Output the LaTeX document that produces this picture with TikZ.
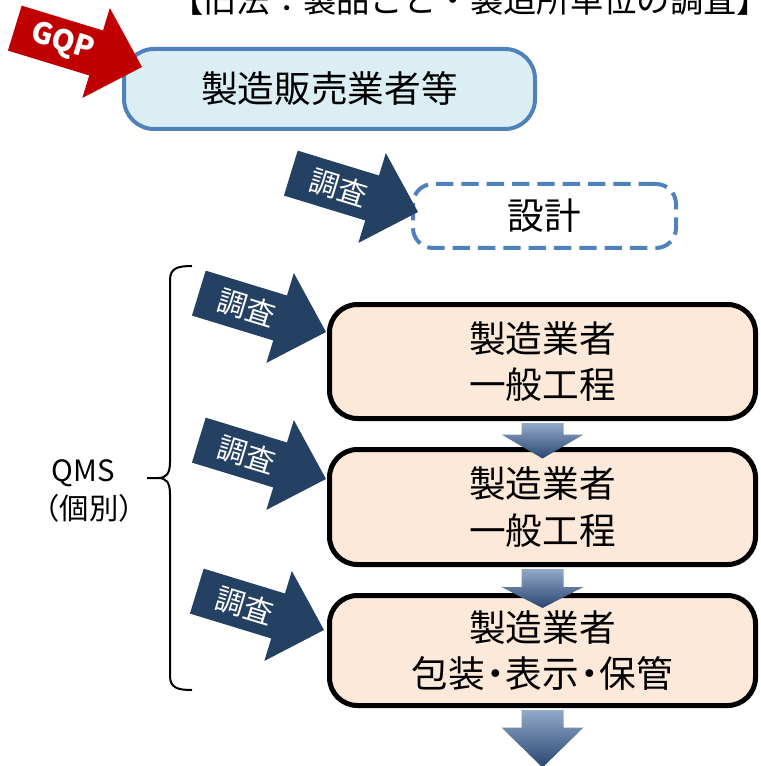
\documentclass[tikz,border=0pt]{standalone}
\usepackage{fontspec}
\setmainfont{Noto Sans CJK JP}
\definecolor{navy}{HTML}{244062}
\definecolor{gqpred}{HTML}{C00000}
\definecolor{bluebd}{HTML}{4F81BD}
\definecolor{bluefill}{HTML}{DBEEF4}
\definecolor{peach}{HTML}{FDE9D9}
\definecolor{grtop}{HTML}{93A9C8}
\definecolor{grbot}{HTML}{284670}
\newcommand\nardot{\kern-0.22em・\kern-0.22em}
\newcommand\bigarrow[5]{% name, tip x, tip y, colour, text
  \begin{scope}[shift={(#2,#3)},rotate=-17]
    \fill[#4] (-133,-23.5) -- (-48,-23.5) -- (-48,-47) -- (0,0) -- (-48,47) -- (-48,23.5) -- (-133,23.5) -- cycle;
    \node[transform shape, arrowtext] (#1) at (-83,0) {#5};
  \end{scope}}
\newcommand\gradarrow[4]{% anchor, body top, head base, tip (offsets in px)
  \begin{scope}[shift={(#1)}]
    \shade[top color=grtop, bottom color=grbot] (-21,#2) -- (21,#2) -- (21,#3) -- (41,#3) -- (0,#4) -- (-41,#3) -- (-21,#3) -- cycle;
  \end{scope}}
\begin{document}
\begin{tikzpicture}[x=0.75pt,y=-0.75pt,
  arrowtext/.style={text=white, inner sep=0pt, font=\fontsize{22pt}{24pt}\selectfont},
  mfbox/.style={draw=bluebd, line width=3pt, fill=bluefill, rounded corners=22.5pt,
    minimum width=308.25pt, minimum height=60pt, inner sep=0pt, font=\fontsize{27.5pt}{34pt}\selectfont},
  designbox/.style={draw=bluebd, line width=3pt, fill=white, rounded corners=15pt, dash pattern=on 13pt off 6pt,
    minimum width=197.25pt, minimum height=48pt, inner sep=0pt, font=\fontsize{27.5pt}{34pt}\selectfont},
  mbox/.style={draw=black, line width=3.75pt, fill=peach, rounded corners=21pt,
    minimum width=319.5pt, inner sep=0pt, align=center, font=\fontsize{27.5pt}{35pt}\selectfont},
  lbl/.style={inner sep=0pt, font=\fontsize{22pt}{26pt}\selectfont}]
\useasboundingbox (0,0) rectangle (760,766);
% title (cut off at the top)
\node[anchor=base, inner sep=0pt, font=\fontsize{25pt}{28pt}\selectfont] (title) at (470,13) {【旧法：製品ごと・製造所単位の調査】};
% boxes
\node[mfbox] (mf) at (329.5,89) {製造販売業者等};
\node[designbox] (design) at (544.5,216) {設計};
\node[mbox, minimum height=85.5pt] (A) at (542.5,361.5) {製造業者\\一般工程};
\node[mbox, minimum height=86.25pt] (B) at (542.5,507) {製造業者\\一般工程};
\node[mbox, minimum height=82.5pt] (C) at (542.5,650.5) {製造業者\\包装\nardot 表示\nardot 保管};
% gradient arrows
\gradarrow{A.south}{2}{13.5}{37.5}
\gradarrow{B.south}{2}{20}{41}
\gradarrow{C.south}{2}{19.5}{59.5}
% inspection arrows
\bigarrow{gqp}{142}{67}{gqpred}{\textbf{\fontsize{22pt}{24pt}\selectfont GQP}}
\bigarrow{insp0}{418}{212}{navy}{調査}
\bigarrow{insp1}{326}{332}{navy}{調査}
\bigarrow{insp2}{326}{479}{navy}{調査}
\bigarrow{insp3}{324}{630}{navy}{調査}
% brace
\draw[line width=1.5pt, line join=round] (192,266) .. controls (178,266) and (170,268) .. (170,280)
  -- (170,462) .. controls (170,474) and (166,478) .. (158,478) -- (147,478)
  (158,478) .. controls (166,478) and (170,482) .. (170,494)
  -- (170,676) .. controls (170,688) and (178,690) .. (192,690);
% labels
\node[lbl] (qms) at (83,473) {QMS};
\node[lbl] (kobetsu) at (89,508) {（個別）};
\end{tikzpicture}
\end{document}
